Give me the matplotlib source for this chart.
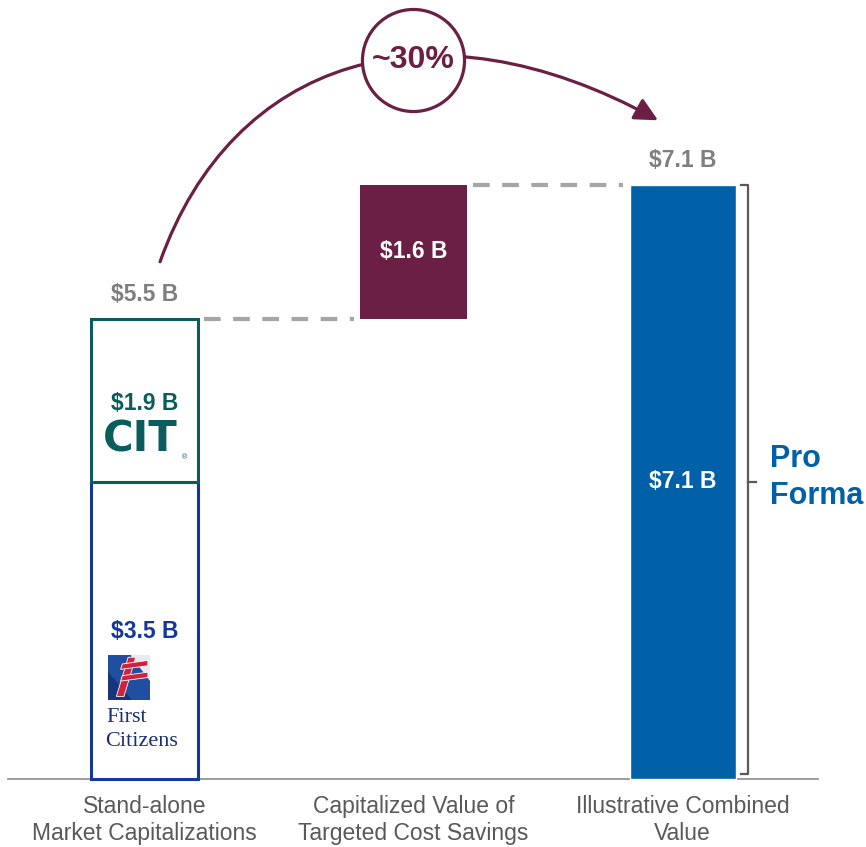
import numpy as np
import matplotlib
matplotlib.use("Agg")
import matplotlib.pyplot as plt
from matplotlib.patches import FancyArrowPatch, Polygon, Rectangle
from matplotlib.path import Path

plt.rcParams['font.family'] = ['Liberation Sans', 'DejaVu Sans']

# data (in $B)
categories = ["Stand-alone\nMarket Capitalizations",
              "Capitalized Value of\nTargeted Cost Savings",
              "Illustrative Combined\nValue"]
first_citizens = 3.55
cit = 1.95
cost_savings = 1.6
combined = 7.1
standalone_label = "$5.5 B"
fc_label = "$3.5 B"
cit_label = "$1.9 B"
savings_label = "$1.6 B"
combined_label = "$7.1 B"
uplift_label = "~30%"

# colours
teal = "#0b5c5c"
navy = "#13379a"
maroon = "#6b1f45"
blue = "#0060a8"
grey = "#7f7f7f"
dark_grey = "#595959"
dash_grey = "#a6a6a6"

fig = plt.figure(figsize=(8.66, 8.47), dpi=100)
ax = fig.add_axes([0, 0, 1, 1])
ax.set_xlim(-0.537, 2.682)
ax.set_ylim(-0.812, 9.307)
ax.axis('off')

x = np.arange(len(categories))
w = 0.4
standalone = first_citizens + cit

# bar 1: stacked outline boxes
ax.bar(x[0], first_citizens, w, color="white", edgecolor=navy, linewidth=2.2, zorder=2)
ax.bar(x[0], cit, w, bottom=first_citizens, color="white", edgecolor=teal, linewidth=2.2, zorder=3)
# bar 2: floating savings
ax.bar(x[1], cost_savings, w, bottom=standalone, color=maroon, zorder=2)
# bar 3: combined
ax.bar(x[2], combined, w * 0.985, color=blue, edgecolor="white", linewidth=1, zorder=2)

# baseline
ax.plot([-0.507, 2.504], [0, 0], color="#8c8c8c", lw=1.2, zorder=1)

# dashed connectors
ax.plot([x[0] + w / 2 + 0.02, x[1] - w / 2 - 0.02], [standalone, standalone],
        color=dash_grey, lw=3, dashes=(4, 3), zorder=1)
ax.plot([x[1] + w / 2 + 0.02, x[2] - w / 2 - 0.02], [combined, combined],
        color=dash_grey, lw=3, dashes=(4, 3), zorder=1)

# value labels
lab = dict(ha="center", va="center", fontsize=16.5, fontweight="bold")
ax.text(x[0], standalone + 0.29, standalone_label, color=grey, **lab)
ax.text(x[2], combined + 0.29, combined_label, color=grey, **lab)
ax.text(x[0], 4.49, cit_label, color=teal, **lab)
ax.text(x[0], 1.76, fc_label, color=navy, **lab)
ax.text(x[1], standalone + cost_savings / 2, savings_label, color="white", **lab)
ax.text(x[2], combined / 2, combined_label, color="white", **lab)

# CIT logo (text stand-in)
ax.text(x[0] - 0.015, 4.06, "CIT", ha="center", va="center",
        fontsize=30, fontweight="bold", color=teal, family="DejaVu Sans")
ax.text(x[0] + 0.148, 3.84, "®", ha="center", va="center", fontsize=5, color=teal)

# First Citizens logo: small flag square drawn in its own little axes
lax = fig.add_axes([108 / 866, 147 / 847, 42 / 866, 45 / 847])
lax.set_xlim(0, 1)
lax.set_ylim(0, 1)
lax.axis('off')
lax.add_patch(Rectangle((0, 0), 1, 1, color="#1f4f9e"))
lax.add_patch(Polygon([(0, 0), (0.55, 0), (0, 0.6)], closed=True, color="#16357a"))
lax.add_patch(Polygon([(0.55, 1), (1, 1), (1, 0.45)], closed=True, color="#e9eaf0"))
red = "#d3213d"
lax.add_patch(Polygon([(0.2, 0.08), (0.38, 0.08), (0.66, 0.95), (0.48, 0.95)],
                      closed=True, facecolor=red, edgecolor="white", lw=0.6))
for y0 in (0.42, 0.68):
    lax.add_patch(Polygon([(0.3, y0), (0.95, y0 + 0.08), (0.95, y0 + 0.2), (0.34, y0 + 0.12)],
                          closed=True, facecolor=red, edgecolor="white", lw=0.6))
ax.text(x[0] - 0.14, 0.73, "First", ha="left", va="center",
        fontsize=16, color="#1a2f6e", family="Liberation Serif")
ax.text(x[0] - 0.145, 0.45, "Citizens", ha="left", va="center",
        fontsize=16, color="#1a2f6e", family="Liberation Serif")

# category labels
for xi, cat in zip(x, categories):
    ax.text(xi, -0.49, cat, ha="center", va="center", fontsize=16.5,
            color=dark_grey, linespacing=1.2)

# curved arrow with ~30% bubble (cubic curve from bar 1 over to bar 3)
p0 = (x[0] + 0.058, 6.18)
p3 = (1.909, 7.87)
c1 = (p0[0] + 0.268, p0[1] + 2.42)
c2 = (p3[0] - 0.847, p3[1] + 1.497)
arc = Path([p0, c1, c2, p3], [Path.MOVETO, Path.CURVE4, Path.CURVE4, Path.CURVE4])
ax.add_patch(FancyArrowPatch(path=arc, arrowstyle="-|>,head_length=0.7,head_width=0.35",
                             mutation_scale=20, color=maroon, lw=2.3, zorder=6))
ax.scatter([x[1]], [8.59], s=5400, facecolor="white", edgecolor=maroon,
           linewidth=2.3, zorder=7)
ax.text(x[1], 8.59, uplift_label, ha="center", va="center", fontsize=23,
        fontweight="bold", color=maroon, zorder=8)

# pro forma bracket
bx0, bx1, bx2 = 2.218, 2.244, 2.273
ax.plot([bx0, bx1, bx1, bx0], [combined, combined, 0.06, 0.06], color=dark_grey, lw=1.6)
ax.plot([bx1, bx2], [combined / 2, combined / 2], color=dark_grey, lw=1.6)
ax.text(2.324, 3.6, "Pro\nForma", ha="left", va="center", fontsize=22,
        fontweight="bold", color=blue, linespacing=1.3)

fig.savefig("out.png", dpi=100)
